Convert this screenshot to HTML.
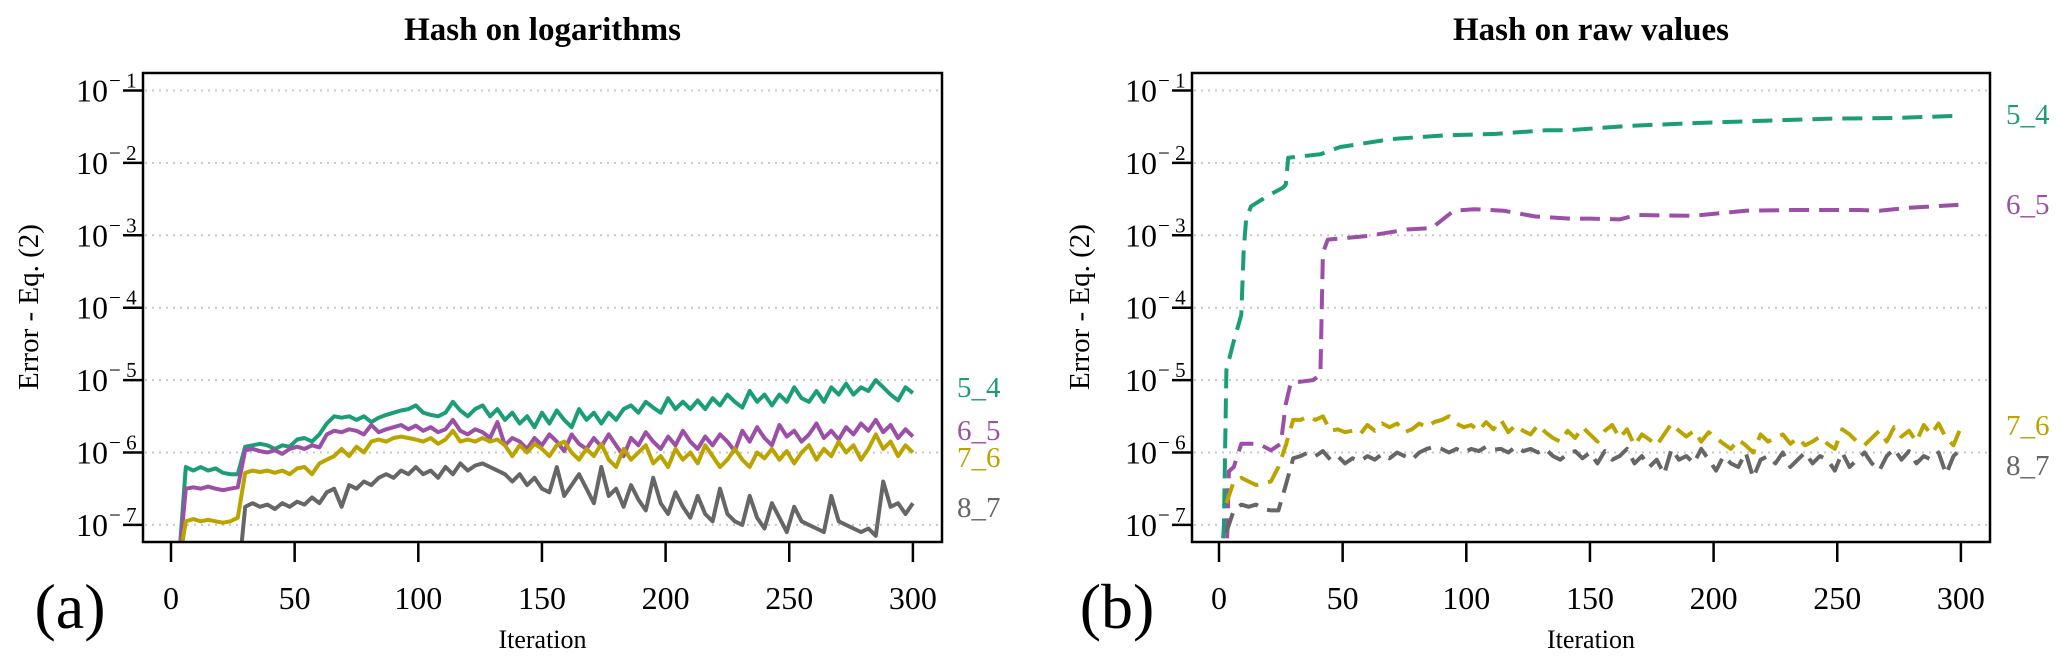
<!DOCTYPE html>
<html><head><meta charset="utf-8"><style>
html,body{margin:0;padding:0;background:#fff;width:2067px;height:660px;overflow:hidden}
svg{display:block;font-family:"Liberation Serif",serif}
</style></head><body>
<svg id="chart" width="2067" height="660" viewBox="0 0 2067 660" xmlns="http://www.w3.org/2000/svg">
<defs>
<clipPath id="clipA"><rect x="143" y="73" width="799" height="469"/></clipPath>
<clipPath id="clipB"><rect x="1192" y="73" width="798" height="469"/></clipPath>
</defs>
</svg>
<script>
// ---- data (log10 of error) ----
const iters = [3,6,9,12,15,18,21,24,27,30,33,36,39,42,45,48,51,54,57,60,63,66,69,72,75,78,81,84,87,90,93,96,99,102,105,108,111,114,117,120,123,126,129,132,135,138,141,144,147,150,153,156,159,162,165,168,171,174,177,180,183,186,189,192,195,198,201,204,207,210,213,216,219,222,225,228,231,234,237,240,243,246,249,252,255,258,261,264,267,270,273,276,279,282,285,288,291,294,297,300];
const yTicks = [-1,-2,-3,-4,-5,-6,-7];
const xTicks = [0,50,100,150,200,250,300];
const seriesNames = ["5_4","6_5","7_6","8_7"];
const logGreenA = [-7.6,-6.2,-6.25,-6.2,-6.25,-6.22,-6.28,-6.3,-6.3,-5.92,-5.9,-5.88,-5.9,-5.95,-5.9,-5.92,-5.82,-5.8,-5.85,-5.75,-5.6,-5.5,-5.52,-5.5,-5.55,-5.5,-5.58,-5.52,-5.48,-5.45,-5.42,-5.4,-5.35,-5.45,-5.48,-5.5,-5.45,-5.3,-5.42,-5.5,-5.4,-5.35,-5.5,-5.4,-5.55,-5.45,-5.6,-5.5,-5.65,-5.45,-5.6,-5.42,-5.55,-5.65,-5.4,-5.55,-5.45,-5.6,-5.45,-5.55,-5.4,-5.35,-5.45,-5.3,-5.38,-5.45,-5.25,-5.4,-5.3,-5.4,-5.28,-5.4,-5.25,-5.35,-5.2,-5.3,-5.38,-5.15,-5.3,-5.2,-5.35,-5.2,-5.3,-5.1,-5.25,-5.3,-5.15,-5.3,-5.1,-5.2,-5.05,-5.2,-5.1,-5.15,-5.0,-5.1,-5.2,-5.28,-5.1,-5.18];
const logPurpleA = [-7.6,-6.5,-6.48,-6.5,-6.47,-6.5,-6.52,-6.5,-6.48,-5.97,-5.95,-5.98,-6.0,-5.97,-6.02,-5.95,-5.92,-5.95,-5.9,-5.93,-5.75,-5.7,-5.72,-5.68,-5.7,-5.75,-5.62,-5.72,-5.68,-5.65,-5.62,-5.68,-5.63,-5.7,-5.65,-5.72,-5.68,-5.55,-5.7,-5.75,-5.68,-5.72,-5.8,-5.58,-5.9,-5.8,-5.85,-5.95,-5.8,-5.9,-5.75,-5.85,-5.98,-5.75,-5.88,-5.95,-5.8,-5.92,-5.75,-5.9,-6.05,-5.8,-5.9,-5.72,-5.85,-5.95,-5.78,-5.9,-5.7,-5.85,-5.95,-5.78,-5.9,-5.75,-5.85,-5.98,-5.7,-5.85,-5.65,-5.8,-5.9,-5.62,-5.78,-5.7,-5.85,-5.75,-5.6,-5.8,-5.7,-5.82,-5.65,-5.75,-5.6,-5.7,-5.55,-5.72,-5.62,-5.8,-5.68,-5.78];
const logYellowA = [-7.6,-6.95,-6.92,-6.95,-6.93,-6.95,-6.97,-6.95,-6.9,-6.28,-6.25,-6.27,-6.25,-6.28,-6.25,-6.3,-6.22,-6.2,-6.3,-6.15,-6.1,-6.05,-5.95,-6.05,-5.92,-6.0,-5.85,-5.82,-5.85,-5.8,-5.78,-5.8,-5.82,-5.85,-5.8,-5.88,-5.82,-5.7,-5.85,-5.82,-5.85,-5.8,-5.85,-5.82,-5.9,-6.05,-5.9,-6.0,-5.88,-5.95,-6.05,-5.9,-5.85,-6.0,-6.1,-5.95,-6.05,-5.88,-6.1,-6.2,-5.95,-6.1,-6.0,-5.9,-6.15,-6.05,-6.2,-5.95,-6.1,-6.0,-6.15,-5.9,-6.05,-6.2,-6.1,-5.95,-6.1,-6.2,-6.0,-6.08,-5.95,-6.1,-5.98,-6.15,-6.0,-5.9,-6.1,-5.95,-6.05,-5.85,-6.0,-5.9,-6.1,-5.95,-5.75,-5.95,-5.85,-6.05,-5.9,-6.0];
const logGrayA = [-7.8,-7.8,-7.8,-7.8,-7.8,-7.8,-7.8,-7.8,-7.8,-6.75,-6.7,-6.75,-6.72,-6.78,-6.7,-6.75,-6.68,-6.72,-6.62,-6.7,-6.55,-6.5,-6.75,-6.45,-6.5,-6.4,-6.45,-6.35,-6.3,-6.35,-6.25,-6.3,-6.2,-6.3,-6.25,-6.35,-6.2,-6.3,-6.15,-6.25,-6.18,-6.15,-6.2,-6.25,-6.3,-6.4,-6.3,-6.45,-6.35,-6.5,-6.55,-6.2,-6.6,-6.45,-6.3,-6.5,-6.7,-6.2,-6.6,-6.5,-6.75,-6.45,-6.65,-6.8,-6.35,-6.7,-6.85,-6.55,-6.75,-6.9,-6.6,-6.85,-6.95,-6.5,-6.85,-6.95,-7.0,-6.6,-6.9,-7.05,-6.7,-6.9,-7.1,-6.75,-6.95,-7.0,-7.05,-7.1,-6.6,-6.95,-7.0,-7.05,-7.1,-7.05,-7.15,-6.4,-6.75,-6.7,-6.85,-6.7];
const itersGreenB = [1,2,3,6,9,10,11,13,20,26,27,28,41,49,70,91,112,132,141,165,192,219,246,273,299];
const logGreenB = [-7.6,-7.0,-4.86,-4.46,-4.1,-3.2,-2.77,-2.6,-2.45,-2.34,-2.3,-1.93,-1.88,-1.78,-1.67,-1.62,-1.6,-1.55,-1.55,-1.49,-1.45,-1.42,-1.39,-1.38,-1.35];
const itersPurpleB = [3,4,6,9,16,21,25,27,29,38,41,42,44,60,76,86,95,103,115,128,142,150,162,169,192,213,232,259,267,279,299];
const logPurpleB = [-7.6,-6.26,-6.2,-5.88,-5.88,-5.97,-5.88,-5.33,-5.04,-5.0,-4.93,-3.24,-3.06,-3.01,-2.92,-2.9,-2.66,-2.64,-2.66,-2.74,-2.77,-2.77,-2.78,-2.72,-2.73,-2.66,-2.65,-2.65,-2.66,-2.62,-2.58];
const logYellowB = [-6.7,-6.4,-6.35,-6.4,-6.45,-6.42,-6.4,-6.2,-5.9,-5.55,-5.55,-5.5,-5.55,-5.5,-5.7,-5.68,-5.72,-5.7,-5.75,-5.62,-5.7,-5.6,-5.65,-5.6,-5.72,-5.68,-5.6,-5.65,-5.58,-5.55,-5.5,-5.6,-5.65,-5.62,-5.7,-5.58,-5.68,-5.55,-5.72,-5.62,-5.7,-5.75,-5.62,-5.72,-5.8,-5.85,-5.7,-5.8,-5.65,-5.75,-5.85,-5.7,-5.62,-5.8,-5.68,-5.9,-5.75,-5.82,-5.9,-5.75,-5.6,-5.7,-5.78,-5.7,-5.85,-5.72,-5.8,-5.88,-5.95,-5.82,-5.9,-6.0,-5.75,-5.85,-5.8,-5.75,-5.88,-5.8,-5.9,-5.85,-5.78,-5.88,-5.95,-5.68,-5.75,-5.85,-5.9,-5.8,-5.7,-5.85,-5.65,-5.78,-5.7,-5.85,-5.62,-5.75,-5.6,-5.8,-5.9,-5.65];
const logGrayB = [-7.1,-6.8,-6.72,-6.75,-6.72,-6.78,-6.8,-6.8,-6.45,-6.08,-6.05,-6.0,-6.05,-5.98,-6.1,-6.05,-6.15,-6.08,-6.12,-6.05,-6.1,-6.02,-6.08,-6.0,-6.05,-6.1,-6.0,-5.95,-5.92,-5.95,-6.0,-5.95,-6.0,-5.95,-5.98,-5.92,-5.96,-5.95,-6.0,-5.92,-5.98,-5.95,-6.0,-5.95,-6.05,-6.1,-6.02,-5.98,-6.08,-6.0,-6.15,-5.98,-6.1,-6.05,-5.95,-6.15,-6.05,-6.2,-6.1,-6.3,-5.95,-6.1,-6.05,-6.15,-5.95,-6.1,-6.25,-6.05,-6.15,-6.2,-6.0,-6.35,-6.1,-6.05,-6.15,-6.0,-6.2,-6.1,-6.0,-6.15,-6.05,-6.1,-6.25,-6.0,-6.2,-6.1,-6.0,-6.15,-6.25,-6.05,-5.95,-6.1,-5.98,-6.15,-6.05,-6.1,-6.0,-6.3,-6.05,-5.95];

const svg = document.getElementById('chart');
const NS = 'http://www.w3.org/2000/svg';
function mk(tag, attrs, parent){
  const e = document.createElementNS(NS, tag);
  for (const k in attrs) e.setAttribute(k, attrs[k]);
  (parent||svg).appendChild(e);
  return e;
}
const COLORS = ["#1b9e77","#9b4fa6","#bba400","#666666"];
const yScale = v => 90.5 + (-1 - v) * 72.4;

function panel(p){
  const xScale = v => p.x0 + v * 2.473;
  const g = mk('g', {});
  
  
  yTicks.forEach(t => {
    const l = mk('line', {x1:p.left+2, x2:p.right-2, y1:yScale(t), y2:yScale(t), stroke:'#c8c8c8', 'stroke-width':2, 'stroke-dasharray':'2 5'}, g);
    
    
  });
  p.series.forEach((s, i) => {
    const d = s.xs.map((x, j) => (j ? 'L' : 'M') + xScale(x).toFixed(1) + ',' + yScale(s.ys[j]).toFixed(1)).join('');
    const path = mk('path', {d:d, fill:'none', stroke:COLORS[i], 'stroke-width':4, 'stroke-linejoin':'round', 'clip-path':'url(#' + p.clip + ')'}, g);
    if (p.dashed) path.setAttribute('stroke-dasharray', '20 10');
    
    
    const lab = mk('text', {x:p.labelX, y:p.labelY[i], fill:COLORS[i], 'font-size':29}, g);
    lab.textContent = seriesNames[i];
    
    
  });
  const box = mk('rect', {x:p.left, y:73, width:p.right-p.left, height:469, fill:'none', stroke:'#000', 'stroke-width':2.5}, g);
  
  
  yTicks.forEach(t => {
    const y = yScale(t);
    mk('line', {x1:p.left-20, x2:p.left, y1:y, y2:y, stroke:'#000', 'stroke-width':2.5}, g);
    const tx = mk('text', {x:p.left-35, y:y+11, 'text-anchor':'end', 'font-size':32}, g);
    tx.textContent = '10';
    
    
    const sup = mk('text', {x:p.left-34, y:y-3, 'text-anchor':'start', 'font-size':21}, g);
    sup.textContent = '\u2212 ' + (-t);
    
    
  });
  xTicks.forEach(t => {
    const x = xScale(t);
    mk('line', {x1:x, x2:x, y1:542, y2:562, stroke:'#000', 'stroke-width':2.5}, g);
    const tx = mk('text', {x:x, y:609, 'text-anchor':'middle', 'font-size':32}, g);
    tx.textContent = t;
    
    
  });
  const title = mk('text', {x:(p.left+p.right)/2, y:40, 'text-anchor':'middle', 'font-size':33, 'font-weight':'bold'}, g);
  title.textContent = p.title;
  
  
  const xt = mk('text', {x:(p.left+p.right)/2, y:648, 'text-anchor':'middle', 'font-size':26}, g);
  xt.textContent = 'Iteration';
  
  
  const yt = mk('text', {x:0, y:0, 'text-anchor':'middle', 'font-size':29, transform:'translate(' + p.yTitleX + ',307) rotate(-90)'}, g);
  yt.textContent = 'Error - Eq. (2)';
  
  
  const pl = mk('text', {x:p.panelX, y:628, 'text-anchor':'middle', 'font-size':64}, g);
  pl.textContent = p.panelLabel;
  
  
}

panel({name:'panel-a', left:143, right:942, x0:171, clip:'clipA', dashed:false, title:'Hash on logarithms',
  yTitleX:38, panelX:70, panelLabel:'(a)', labelX:957, labelY:[397,440,467,517],
  series:[{xs:iters, ys:logGreenA},{xs:iters, ys:logPurpleA},{xs:iters, ys:logYellowA},{xs:iters, ys:logGrayA}]});
panel({name:'panel-b', left:1192, right:1990, x0:1219, clip:'clipB', dashed:true, title:'Hash on raw values',
  yTitleX:1089, panelX:1117, panelLabel:'(b)', labelX:2006, labelY:[124,214,435,475],
  series:[{xs:itersGreenB, ys:logGreenB},{xs:itersPurpleB, ys:logPurpleB},{xs:iters, ys:logYellowB},{xs:iters, ys:logGrayB}]});
</script>
</body></html>
